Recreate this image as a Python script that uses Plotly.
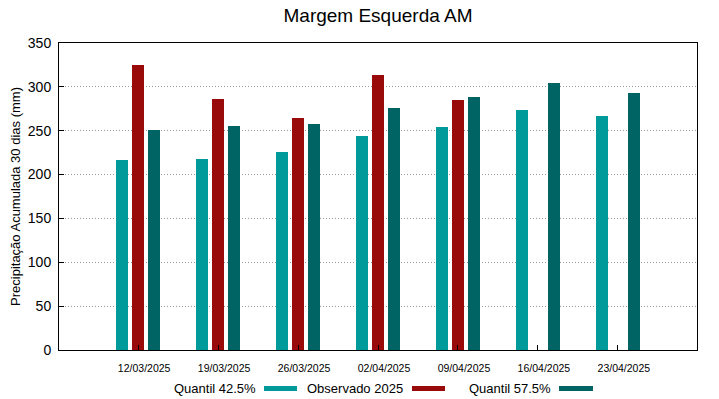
import plotly.graph_objects as go

categories = ["12/03/2025", "19/03/2025", "26/03/2025", "02/04/2025",
              "09/04/2025", "16/04/2025", "23/04/2025"]
quantil_425 = [216.5, 217.5, 226, 243.5, 254, 273.7, 267]
observado_2025 = [324.8, 286.2, 264.5, 313.6, 285.4, None, None]
quantil_575 = [250.8, 255.5, 257.3, 275.6, 288, 304.4, 292.8]

series = [
    ("Quantil 42.5%", quantil_425, "#009a9a"),
    ("Observado 2025", observado_2025, "#990b0b"),
    ("Quantil 57.5%", quantil_575, "#006464"),
]

W, H = 719, 399
L, R, T, B = 59, 697, 43, 350

def px_x(p):
    return (p - L) / (R - L)

def px_y(p):
    return (B - p) / (B - T)

xpos = list(range(len(categories)))
fig = go.Figure()
bw = 0.155
centers = [-0.2, 0.0, 0.2]
for (name, vals, col), c in zip(series, centers):
    fig.add_trace(go.Bar(
        x=xpos, y=vals, name=name, marker_color=col,
        marker_line_width=0, width=bw, offset=c - bw / 2,
        showlegend=False,
    ))

# custom legend: text then swatch
legend_items = [(258, 264, 297), (405, 412, 445), (553, 559, 593)]
for (name, vals, col), (tx, s0, s1) in zip(series, legend_items):
    fig.add_annotation(x=px_x(tx), y=px_y(388), xref="paper", yref="paper",
                       text=name, showarrow=False, xanchor="right", yanchor="middle",
                       font=dict(size=13, color="#000", family="Liberation Sans"))
    fig.add_shape(type="rect", xref="paper", yref="paper",
                  x0=px_x(s0), x1=px_x(s1), y0=px_y(391), y1=px_y(386),
                  fillcolor=col, line_width=0)

fig.update_layout(
    width=W, height=H,
    margin=dict(l=L, r=W - R, t=T, b=H - B),
    paper_bgcolor="white", plot_bgcolor="white",
    font=dict(family="Liberation Sans", color="#000"),
    title=dict(text="Margem Esquerda AM", x=(L + R) / 2 / W, xanchor="center",
               y=1 - 15 / H, yanchor="middle", font=dict(size=19)),
    bargap=0,
)
fig.update_xaxes(
    range=[-0.99, 6.99], tickvals=xpos, ticktext=categories,
    tickfont=dict(size=10.5), ticks="inside", ticklen=5, tickcolor="#000",
    showline=True, linecolor="#000", linewidth=1, mirror=True,
    showgrid=False, zeroline=False, ticklabelshift=6, ticklabelstandoff=8,
)
fig.update_yaxes(
    range=[0, 350], tickvals=[0, 50, 100, 150, 200, 250, 300, 350],
    tickfont=dict(size=14), ticks="inside", ticklen=5, tickcolor="#000",
    showline=True, linecolor="#000", linewidth=1, mirror=True,
    showgrid=True, gridcolor="#999", griddash="1px,2px", gridwidth=1,
    zeroline=False, ticklabelstandoff=4,
    title=dict(text="Precipitação Acumulada 30 dias (mm)", font=dict(size=13), standoff=4),
)
fig.write_html("out.html", config={"displayModeBar": False},
               post_script="document.body.style.margin='0';document.body.style.overflow='hidden';")
